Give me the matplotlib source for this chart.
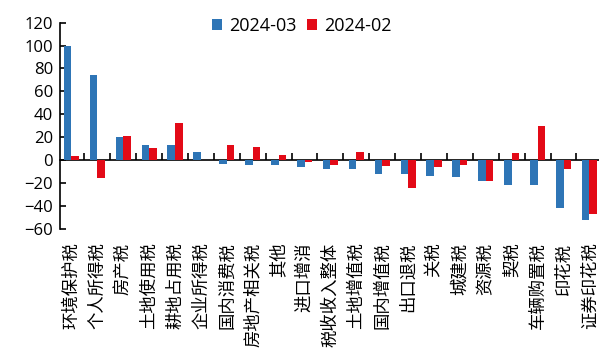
import matplotlib
matplotlib.use("Agg")
import matplotlib.pyplot as plt
import numpy as np

categories = ["环境保护税", "个人所得税", "房产税", "土地使用税", "耕地占用税",
              "企业所得税", "国内消费税", "房地产相关税", "其他", "进口增消",
              "税收收入整体", "土地增值税", "国内增值税", "出口退税", "关税",
              "城建税", "资源税", "契税", "车辆购置税", "印花税", "证券印花税"]
mar_2024 = [100.0, 74.6, 19.8, 13.4, 13.1, 6.7, -3.5, -4.0, -4.7, -5.8,
            -8.2, -8.2, -12.5, -12.5, -13.7, -15.2, -18.7, -21.9, -21.9, -42.3, -52.5]
feb_2024 = [3.8, -16.0, 21.0, 10.8, 32.7, 0.0, 13.4, 11.4, 4.7, -1.7,
            -4.1, 7.0, -5.2, -24.5, -6.4, -4.7, -18.0, 6.1, 29.7, -7.6, -47.2]
series_names = ["2024-03", "2024-02"]
y_ticks = [-60, -40, -20, 0, 20, 40, 60, 80, 100, 120]

blue = "#2E75B6"
red = "#E30A17"

plt.rcParams["font.family"] = ["Open Sans", "Noto Sans CJK SC", "DejaVu Sans"]

W, H = 599, 349
fig = plt.figure(figsize=(W / 100, H / 100), dpi=100)
left_px, right_px, top_px, bottom_px = 60, 599, 22.7, 228.7
ax = fig.add_axes([left_px / W, 1 - bottom_px / H,
                   (right_px - left_px) / W, (bottom_px - top_px) / H])

x = np.arange(len(categories))
bw = 0.29
ax.bar(x - bw / 2, mar_2024, width=bw, color=blue, label=series_names[0], zorder=2)
ax.bar(x + bw / 2, feb_2024, width=bw, color=red, label=series_names[1], zorder=2)

ax.set_xlim(-0.44, 20.37)
ax.set_ylim(-60, 120)
ax.set_yticks(y_ticks)
ax.tick_params(axis="y", direction="in", length=4.5, width=1.2, labelsize=12, pad=5)

for side in ("top", "right", "bottom"):
    ax.spines[side].set_visible(False)
ax.spines["left"].set_linewidth(1.2)

# category labels along the bottom, no tick marks there
ax.set_xticks(x)
ax.set_xticklabels(categories, rotation=90, fontsize=12.5,
                   family=["Noto Sans CJK SC", "DejaVu Sans"])
ax.tick_params(axis="x", length=0, pad=10)

# zero line with boundary ticks between categories
zero_frac = (0 - (-60)) / (120 - (-60))
sec = ax.secondary_xaxis(zero_frac)
sec.spines["bottom"].set_linewidth(1.2)
sec.set_xticks(np.arange(0.5, len(categories) - 1, 1.0))
sec.tick_params(axis="x", direction="in", length=5, width=1.2, labelbottom=False)

ax.legend(loc="upper center", bbox_to_anchor=(302 / W, 1 - 10 / H),
          bbox_transform=fig.transFigure, ncol=2, frameon=False,
          fontsize=13, handlelength=0.55, handleheight=0.55,
          handletextpad=0.4, columnspacing=0.6, borderaxespad=0)

fig.savefig("out.png", dpi=100)
